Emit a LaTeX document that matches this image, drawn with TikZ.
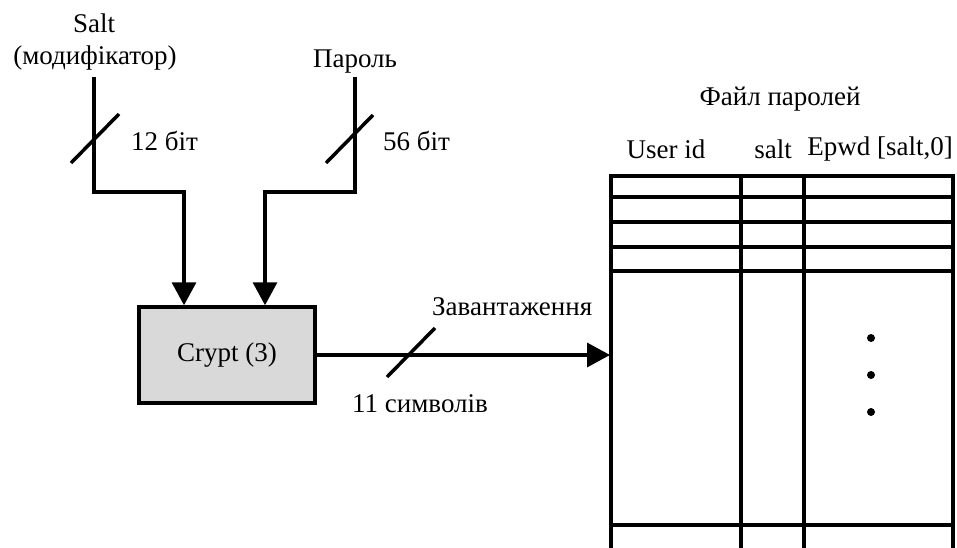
\documentclass[tikz,border=0pt]{standalone}
\usepackage{fontspec}
\setmainfont{Liberation Serif}
\usetikzlibrary{arrows.meta}
\begin{document}
\begin{tikzpicture}[x=1pt,y=-1pt,
  lbl/.style={inner sep=0pt,font=\fontsize{27}{32}\selectfont},
  wire/.style={line width=3.5pt},
  arr/.style={wire,-{Triangle[length=23pt,width=24pt]}},
  tbl/.style={line width=3.5pt},
  slash/.style={line width=3.5pt}]
\useasboundingbox (0,0) rectangle (957,548);
% labels
\node[lbl] (salt) at (94,23) {Salt};
\node[lbl] (mod) at (95,58) {(модифікатор)};
\node[lbl] (pwd) at (355,62) {Пароль};
\node[lbl,anchor=west] (b12) at (131,141) {12 біт};
\node[lbl,anchor=west] (b56) at (383,141) {56 біт};
% crypt box
\node[draw,line width=3.5pt,fill=black!15,minimum width=176pt,minimum height=96pt,inner sep=0pt,font=\fontsize{27}{32}\selectfont] (crypt) at (227,355) {Crypt (3)};
% inputs
\coordinate (s0) at (94,77);
\coordinate (p0) at (355,77);
\draw[arr] (s0) -- (94,192) -| ([xshift=-43pt]crypt.north);
\draw[arr] (p0) -- (355,192) -| ([xshift=38pt]crypt.north);
\draw[slash] (71,163) -- (119,114);
\draw[slash] (326,163) -- (373,115);
% table
\coordinate (tl) at (611,176);
\coordinate (tin) at (610,355);
\draw[arr] (crypt.east) -- (tin);
\draw[slash] (387,377) -- (435,328);
\node[lbl,anchor=west] (load) at (432,307) {Завантаження};
\node[lbl,anchor=west] (sym) at (352,404) {11 символів};
\node[lbl] (title) at (780,99) {Файл паролей};
\node[lbl] (uid) at (666,149) {User id};
\node[lbl] (hsalt) at (773,149) {salt};
\node[lbl] (epwd) at (880,149) {Epwd [salt,0]};
\draw[tbl] (611,548) -- (tl) -- (953,176) -- (953,548);
\draw[tbl] (741,176) -- (741,548);
\draw[tbl] (804,176) -- (804,548);
\foreach \yy in {197,222,247,271,525} \draw[tbl] (611,\yy) -- (953,\yy);
\foreach \yy in {338,375,412} \fill (871,\yy) circle (4pt);
\end{tikzpicture}
\end{document}
